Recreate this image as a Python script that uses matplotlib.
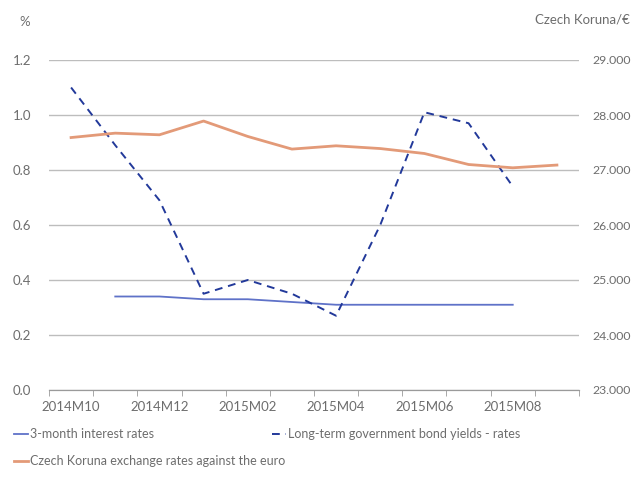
import numpy as np
import matplotlib
matplotlib.use("Agg")
import matplotlib.pyplot as plt

months = ["2014M10", "2014M11", "2014M12", "2015M01", "2015M02", "2015M03",
          "2015M04", "2015M05", "2015M06", "2015M07", "2015M08", "2015M09"]
rate_3m = [np.nan, 0.34, 0.34, 0.33, 0.33, 0.32, 0.31, 0.31, 0.31, 0.31, 0.31, np.nan]
long_term = [1.10, 0.89, 0.69, 0.35, 0.40, 0.35, 0.27, 0.60, 1.01, 0.97, 0.74, np.nan]
czk_eur = [27.59, 27.67, 27.64, 27.89, 27.61, 27.38, 27.44, 27.39, 27.30, 27.10, 27.04, 27.09]

left_ticks = [0.0, 0.2, 0.4, 0.6, 0.8, 1.0, 1.2]
right_ticks = [23, 24, 25, 26, 27, 28, 29]

FONT = ["Lato", "DejaVu Sans"]
plt.rcParams["font.family"] = FONT
TXT = "#6d6d6d"
FS = 9.5
LFS = 9.0

W, H = 634, 491
fig = plt.figure(figsize=(W / 100, H / 100), dpi=100)
ax = fig.add_axes([49 / W, 1 - 390 / H, (579 - 49) / W, (390 - 60) / H])
ax2 = ax.twinx()

x = np.arange(len(months))
c_blue = "#5f72c8"
c_dash = "#22399a"
c_orange = "#e39a78"

l1, = ax.plot(x, rate_3m, color=c_blue, lw=1.3, label="3-month interest rates", zorder=3)
l2, = ax.plot(x, long_term, color=c_dash, lw=1.4, ls=(0, (4, 3)),
              label="Long-term government bond yields - rates", zorder=3)
l3, = ax2.plot(x, czk_eur, color=c_orange, lw=2.0,
               label="Czech Koruna exchange rates against the euro", zorder=3)

ax.set_xlim(-0.5, len(months) - 0.5)
ax.set_ylim(0, 1.2)
ax2.set_ylim(23, 29)
ax.set_yticks(left_ticks)
ax.set_yticklabels([f"{v:.1f}" for v in left_ticks])
ax2.set_yticks(right_ticks)
ax2.set_yticklabels([f"{v:.3f}" for v in right_ticks])

ax.yaxis.grid(True, color="#bdbdbd", lw=1.0)
ax.set_axisbelow(True)
for a in (ax, ax2):
    for s in ("top", "left", "right"):
        a.spines[s].set_visible(False)
    a.spines["bottom"].set_color("#9a9a9a")
    a.tick_params(axis="y", length=0, labelcolor=TXT)
ax.tick_params(axis="y", pad=13, labelsize=FS)
ax2.tick_params(axis="y", pad=10, labelsize=8.8)

ax.set_xticks(np.arange(-0.5, len(months), 1.0), minor=True)
ax.set_xticks(x[::2])
ax.set_xticklabels(months[::2])
ax.tick_params(axis="x", which="major", length=0, labelsize=FS, labelcolor=TXT, pad=8)
ax.tick_params(axis="x", which="minor", length=4, color="#9a9a9a", direction="out")

fig.text(25 / W, 1 - 22 / H, "%", color=TXT, fontsize=FS, ha="center", va="center")
fig.text(630 / W, 1 - 20 / H, "Czech Koruna/€", color=TXT, fontsize=FS, ha="right", va="center")

def add_leg(handle, xpix, ypix):
    lg = fig.legend([handle], [handle.get_label()], loc="center left",
                    bbox_to_anchor=(xpix / W, 1 - ypix / H), frameon=False,
                    fontsize=LFS, handlelength=1.15, handletextpad=0.1,
                    borderaxespad=0, borderpad=0, labelcolor=TXT)
    return lg

add_leg(l1, 14, 434)
add_leg(l2, 272, 434)
add_leg(l3, 14, 461)

fig.savefig("out.png", dpi=100)
